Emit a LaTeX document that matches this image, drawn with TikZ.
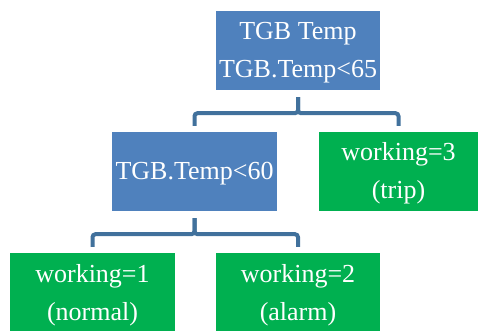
\documentclass[tikz,border=0pt]{standalone}
\usepackage{fontspec}
\setmainfont{Liberation Serif}
\definecolor{boxblue}{HTML}{4F81BD}
\definecolor{boxgreen}{HTML}{00B050}
\definecolor{linkblue}{HTML}{41719C}
\begin{document}
\begin{tikzpicture}[x=1pt,y=1pt,
  box/.style={inner sep=0pt, text=white, align=center,
    font=\fontsize{26}{38}\selectfont},
  bluebox/.style={box, fill=boxblue},
  greenbox/.style={box, fill=boxgreen},
  boxtext/.style={inner sep=0pt, text=white, align=center,
    font=\fontsize{26}{38}\selectfont},
  conn/.style={draw=linkblue, line width=4pt, rounded corners=3pt}]
\useasboundingbox (0,0) rectangle (478,331);
\fill[white] (0,0) rectangle (478,331);
\node[bluebox, minimum width=164pt, minimum height=79pt] (top) at (298,280.5) {};
\node[bluebox, minimum width=165pt, minimum height=79pt] (mid) at (194.5,159.5) {};
\node[greenbox, minimum width=159pt, minimum height=79pt] (right) at (398.5,159.5) {};
\node[greenbox, minimum width=165pt, minimum height=78pt] (bl) at (92.5,39) {};
\node[greenbox, minimum width=164pt, minimum height=78pt] (br) at (298,39) {};
\node[boxtext] (toptext) at ([yshift=-2pt]top.center) {TGB Temp\\TGB.Temp<65};
\node[boxtext] (midtext) at ([yshift=-2pt]mid.center) {TGB.Temp<60};
\node[boxtext] (righttext) at ([yshift=-2pt]right.center) {working=3\\(trip)};
\node[boxtext] (bltext) at ([yshift=-3pt]bl.center) {working=1\\(normal)};
\node[boxtext] (brtext) at ([yshift=-3pt]br.center) {working=2\\(alarm)};
\coordinate (j1) at ([yshift=-7pt]top.south);
\coordinate (j2) at ([yshift=-7pt]mid.south);
\draw[conn] (j1) -- ++(0,-16) -| ([yshift=6pt]mid.north);
\draw[conn] (j1) -- ++(0,-16) -| ([yshift=6pt]right.north);
\draw[conn] (j2) -- ++(0,-16) -| ([yshift=6pt]bl.north);
\draw[conn] (j2) -- ++(0,-16) -| ([yshift=6pt]br.north);
\end{tikzpicture}
\end{document}
